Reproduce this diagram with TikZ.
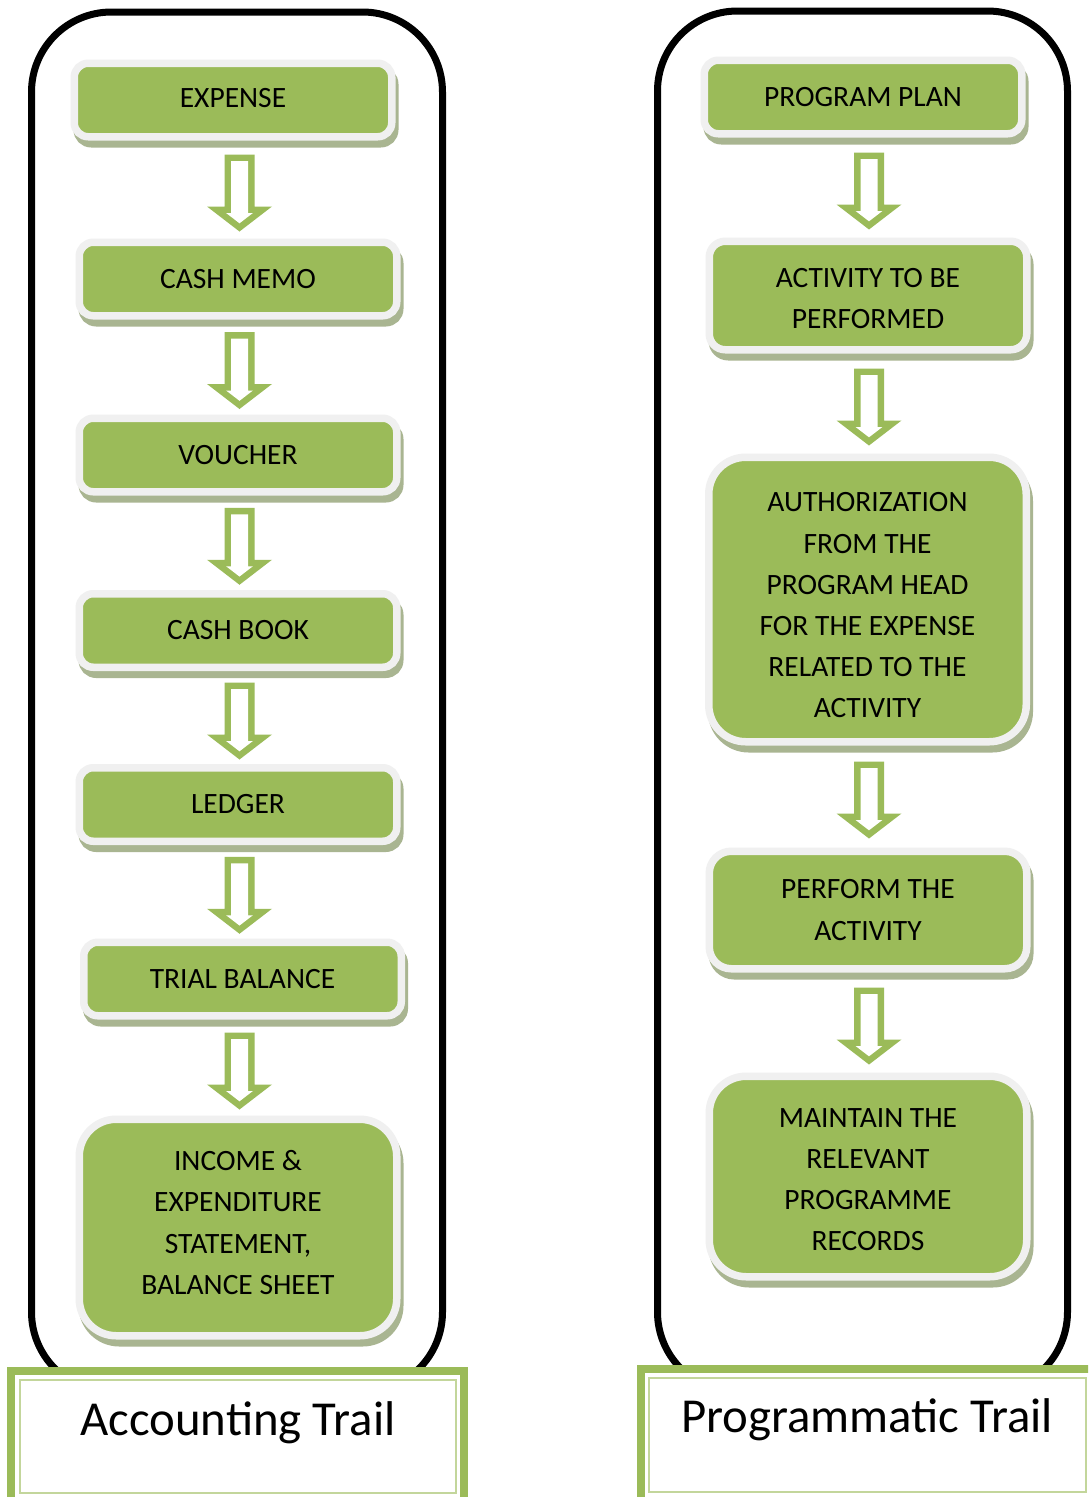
\documentclass[tikz,border=0pt]{standalone}
\usepackage{fontspec}
\setmainfont{Carlito}
\usetikzlibrary{shadows,calc}
\definecolor{boxgreen}{HTML}{9BBB59}
\definecolor{bordergray}{HTML}{F0F0F0}
\definecolor{shadowc}{HTML}{A9B591}
\definecolor{lightgreen}{HTML}{C3D69B}
\newcommand\boxfont{\fontsize{29.5}{41.2}\selectfont}
\newcommand\labfont{\fontsize{48.8}{58}\selectfont}
\newcommand\topstrut[1]{\rule{0pt}{#1}}
\newcommand\botstrut[1]{\rule[-#1]{0pt}{#1}}
\tikzset{
  flowbox/.style={draw=bordergray, line width=7.5pt, fill=boxgreen,
    rounded corners=14pt, minimum width=317.5pt, minimum height=73.5pt,
    align=center, inner sep=0pt, font=\boxfont, text=black,
    general shadow={fill=shadowc, draw=shadowc, line width=7.5pt,
      shadow xshift=3pt, shadow yshift=-7pt}},
  bigbox/.style={flowbox, rounded corners=37pt},
  trail/.style={draw=black, line width=7pt, rounded corners=80pt},
  labelband/.style={draw=boxgreen, line width=8pt, fill=white},
  labelline/.style={draw=lightgreen, line width=2pt},
  labeltext/.style={font=\labfont, text=black, anchor=base, inner sep=0pt},
  blockarrow/.pic={
    \fill[boxgreen] (-15,-38.5) -- (15,-38.5) -- (15,13.5) -- (32.5,13.5)
      -- (0,38.5) -- (-32.5,13.5) -- (-15,13.5) -- cycle;
    \fill[white] (-8.5,-32) -- (8.5,-32) -- (8.5,20) -- (13.4,20)
      -- (0,30.3) -- (-13.4,20) -- (-8.5,20) -- cycle;
  }
}
\begin{document}
\begin{tikzpicture}[x=1pt,y=-1pt]
\clip (0,0) rectangle (1088,1497);
\fill[white] (0,0) rectangle (1088,1497);
\coordinate (colL) at (239.5,0);
\coordinate (colR) at (869,0);

% outer trails
\draw[trail] (31.5,12) rectangle (442.5,1392);
\draw[trail] (657.5,11) rectangle (1067.5,1392);

% left column
\node[flowbox] (L1) at (233,100) {\botstrut{4pt}EXPENSE};
\node[flowbox] (L2) at (238,279) {CASH MEMO};
\node[flowbox] (L3) at (238,455) {VOUCHER};
\node[flowbox] (L4) at (238,630.5) {CASH BOOK};
\node[flowbox] (L5) at (238,804.5) {LEDGER};
\node[flowbox] (L6) at (242.5,979) {TRIAL BALANCE};
\node[bigbox, minimum height=216.5pt] (L7) at (238,1227.5)
  {INCOME \&\\EXPENDITURE\\STATEMENT,\\BALANCE SHEET\botstrut{10pt}};

% right column
\node[flowbox] (R1) at (863,97) {PROGRAM PLAN};
\node[flowbox, minimum height=108.5pt, rounded corners=16pt] (R2) at (868,295.5)
  {\topstrut{25pt}ACTIVITY TO BE\\PERFORMED};
\node[bigbox, minimum height=284.5pt] (R3) at (867.5,599.5)
  {\topstrut{31pt}AUTHORIZATION\\FROM THE\\PROGRAM HEAD\\FOR THE EXPENSE\\RELATED TO THE\\ACTIVITY};
\node[flowbox, minimum height=117.5pt, rounded corners=22pt] (R4) at (868,910)
  {PERFORM THE\\ACTIVITY};
\node[bigbox, minimum height=200.5pt] (R5) at (868,1176.5)
  {\topstrut{25pt}MAINTAIN THE\\RELEVANT\\PROGRAMME\\RECORDS};

% arrows (connectors)
\foreach \a/\b/\c in {L1/L2/colL, L2/L3/colL, L3/L4/colL, L4/L5/colL,
                      L5/L6/colL, L6/L7/colL,
                      R1/R2/colR, R2/R3/colR, R3/R4/colR, R4/R5/colR}{
  \coordinate (m-\a) at ($(\a.south)!.5!(\b.north)$);
  \pic[yshift=-3.5pt] at (m-\a -| \c) {blockarrow};
}

% labels
\draw[labelband] (11,1371) rectangle (463.5,1501);
\draw[labelline] (19.5,1380) rectangle (455.5,1493);
\node[labeltext] (labL) at (238,1435) {Accounting Trail};

\draw[labelband] (641,1369) rectangle (1100,1501);
\draw[labelline] (648.5,1378) rectangle (1086,1492);
\node[labeltext] (labR) at (867,1432) {Programmatic Trail};
\end{tikzpicture}
\end{document}
